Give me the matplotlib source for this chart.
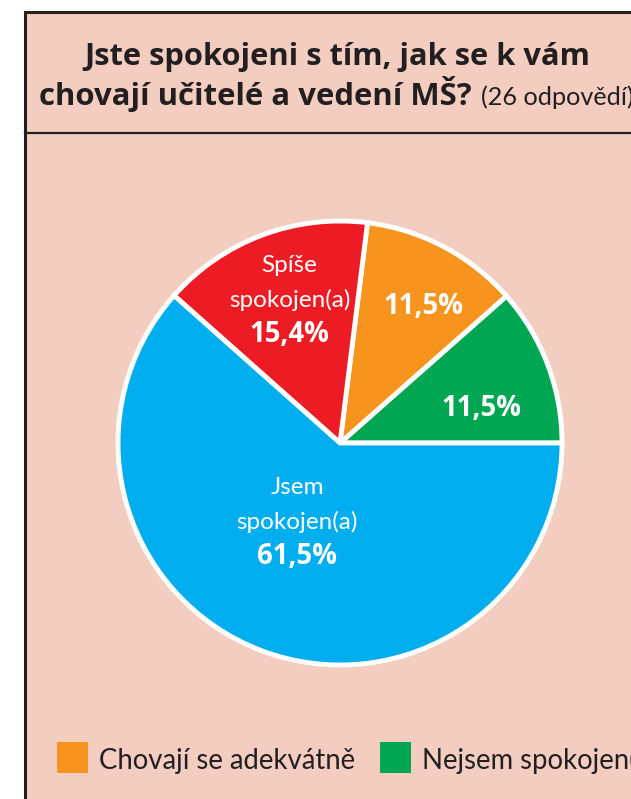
import matplotlib
matplotlib.use("Agg")
import matplotlib.pyplot as plt
from matplotlib.patches import Rectangle
import numpy as np

plt.rcParams['font.family'] = ['Lato', 'DejaVu Sans']
BOLD = ['Open Sans', 'DejaVu Sans']

# data, counter-clockwise from 3 o'clock
categories = ['Nejsem spokojen(a)', 'Chovají se adekvátně', 'Spíše\nspokojen(a)', 'Jsem\nspokojen(a)']
values = [11.5, 11.5, 15.4, 61.5]
pct_labels = ['11,5%', '11,5%', '15,4%', '61,5%']
colors = ['#00A651', '#F7941D', '#ED1C24', '#00AEEF']
show_name = [False, False, True, True]
legend_labels = ['Chovají se adekvátně', 'Nejsem spokojen(a)']
legend_colors = ['#F7941D', '#00A651']

W, H = 631, 799
bg = '#F3CEC0'
ink = '#231F20'

fig = plt.figure(figsize=(W / 100, H / 100), dpi=100)
fig.patch.set_facecolor('white')
ax = fig.add_axes([0, 0, 1, 1])
ax.set_axis_off()
ax.set_xlim(0, W)
ax.set_ylim(0, H)
renderer = fig.canvas.get_renderer()


def Y(y):
    # pixel row (from top) -> axes y
    return H - y


def fit(s, width, **kw):
    # font size that makes the string about `width` pixels wide
    t = ax.text(0, 0, s, fontsize=20, **kw)
    w = t.get_window_extent(renderer).width
    t.remove()
    return 20 * width / w


# panel
ax.add_patch(Rectangle((25, 0), W, Y(12), facecolor=bg, edgecolor='none', zorder=0))
ax.plot([25, 25], [0, Y(12)], color=ink, lw=2.2, zorder=1)
ax.plot([25, W], [Y(12), Y(12)], color=ink, lw=2.2, zorder=1)
ax.plot([25, W], [Y(133), Y(133)], color=ink, lw=1.6, zorder=1)

# title
line1 = 'Jste spokojeni s tím, jak se k vám'
line2 = 'chovají učitelé a vedení MŠ?'
note = '(26 odpovědí)'
tsize = fit(line1, 505, fontweight='bold', family=BOLD)
ax.text(337, Y(65), line1, ha='center', va='baseline', fontsize=tsize,
        fontweight='bold', color=ink, family=BOLD)
t2 = ax.text(39, Y(105), line2, ha='left', va='baseline',
             fontsize=fit(line2, 433, fontweight='bold', family=BOLD),
             fontweight='bold', color=ink, family=BOLD)
bb = t2.get_window_extent(renderer)
ax.text(bb.x1 + 9, Y(105), note, ha='left', va='baseline',
        fontsize=fit(note, 153), color=ink)

# pie
cx, cy, r = 340, Y(443), 222
wedges, _ = ax.pie(values, colors=colors, startangle=0, counterclock=True,
                   center=(cx, cy), radius=r,
                   wedgeprops=dict(edgecolor='white', linewidth=3.5))

# label placement (angle offset from wedge middle, fraction of radius)
label_pos = [(-6.8, 0.655), (-3.8, 0.72), (-1.2, 0.682), (-7.7, 0.405)]
psize = fit('11,5%', 80, fontweight='bold', family=BOLD)
nsize = fit('spokojen(a)', 121)
for w, pct, name, shown, (da, fr) in zip(wedges, pct_labels, categories, show_name, label_pos):
    ang = np.deg2rad((w.theta1 + w.theta2) / 2 + da)
    x = cx + fr * r * np.cos(ang)
    y = cy + fr * r * np.sin(ang)
    if shown:
        lines = name.split('\n')
        ax.text(x, y + 35, lines[0], ha='center', va='center', fontsize=nsize,
                color='white')
        ax.text(x, y, lines[1], ha='center', va='center', fontsize=nsize,
                color='white')
        ax.text(x, y - 34, pct, ha='center', va='center', fontsize=psize,
                fontweight='bold', color='white', family=BOLD)
    else:
        ax.text(x, y, pct, ha='center', va='center', fontsize=psize,
                fontweight='bold', color='white', family=BOLD)

# legend (cropped at right edge like the source)
lsize = fit(legend_labels[0], 257)
lx = [57, 380]
for x0, lab, col in zip(lx, legend_labels, legend_colors):
    ax.add_patch(Rectangle((x0, Y(773)), 31, 31, facecolor=col, edgecolor='none'))
    ax.text(x0 + 42, Y(769), lab, ha='left', va='baseline', fontsize=lsize, color=ink)

ax.set_xlim(0, W)
ax.set_ylim(0, H)
ax.set_aspect('equal')
fig.savefig('out.png', dpi=100, facecolor='white')
